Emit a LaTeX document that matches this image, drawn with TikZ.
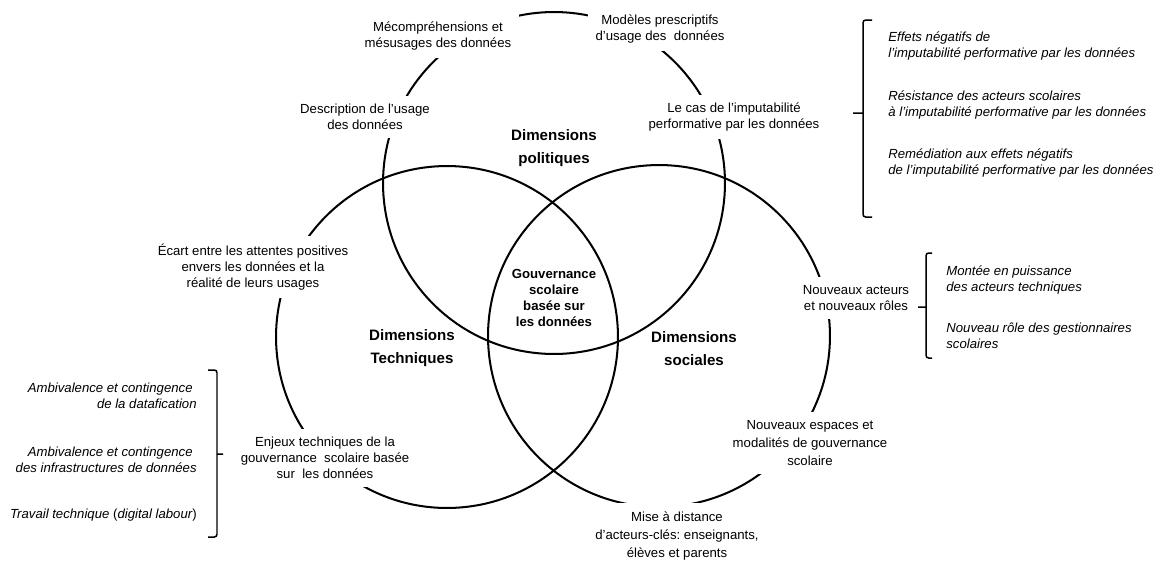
\documentclass[tikz,border=0pt]{standalone}
\usepackage{fontspec}
\setmainfont{Liberation Sans}
\begin{document}
\frenchspacing
\begin{tikzpicture}[x=0.02cm, y=-0.02cm,
    ring/.style={draw, circle, line width=1.15pt, minimum size=6.84cm, inner sep=0pt},
    lbl/.style={fill=white, align=center, inner sep=4.5pt, font=\fontsize{7.5}{9.2}\selectfont},
    dim/.style={align=center, font=\fontsize{8.6}{13.1}\selectfont\bfseries},
    item/.style={align=left, anchor=west, inner sep=0pt, font=\fontsize{7.5}{9.4}\selectfont\itshape},
    brace/.style={line width=0.85pt, rounded corners=1.5pt}]
  \useasboundingbox (0,0) rectangle (1161,562);
  % the three circles
  \node[ring] (pol) at (554,183) {};
  \node[ring] (tech) at (447,337) {};
  \node[ring] (soc) at (659,336) {};
  % dimensions politiques
  \node[lbl] (mecomp) at (438,36) {Mécompréhensions et\\mésusages des données};
  \node[lbl] (modeles) at (660,29) {Modèles prescriptifs\\d’usage des~ données};
  \node[lbl] (descr) at (365,117) {Description de l’usage\\des données};
  \node[lbl] (lecas) at (734,117) {Le cas de l’imputabilité\\performative par les données};
  \node[dim] (dpol) at (554,148) {Dimensions\\politiques};
  % dimensions techniques
  \node[lbl] (ecart) at (253,267) {Écart entre les attentes positives\\envers les données et la\\réalité de leurs usages};
  \node[lbl] (enjeux) at (325,458) {Enjeux techniques de la\\gouvernance~ scolaire basée\\sur~ les données};
  \node[dim] (dtech) at (412,348) {Dimensions\\Techniques};
  % dimensions sociales
  \node[lbl] (acteurs) at (856,298) {Nouveaux acteurs\\et nouveaux rôles};
  \node[lbl, font=\fontsize{7.5}{10.3}\selectfont] (espaces) at (810,443) {Nouveaux espaces et\\modalités de gouvernance\\scolaire};
  \node[lbl, font=\fontsize{7.5}{10.5}\selectfont] (distance) at (677,536) {Mise à distance\\d’acteurs-clés: enseignants,\\élèves et parents};
  \node[dim] (dsoc) at (694,349) {Dimensions\\sociales};
  % centre
  \node[align=center, font=\fontsize{7.5}{9.2}\selectfont\bfseries] (gouv) at (554,298) {Gouvernance\\scolaire\\basée sur\\les données};
  % right, top
  \node[item] (effets) at (888,46) {Effets négatifs de\\l’imputabilité performative par les données};
  \node[item] (resist) at (888,105) {Résistance des acteurs scolaires\\à l’imputabilité performative par les données};
  \node[item] (remed) at (888,163) {Remédiation aux effets négatifs\\de l’imputabilité performative par les données};
  \draw[brace] (872,20) -- (863,20) -- (863,217) -- (872,217) (863,113) -- (853,113);
  % right, middle
  \node[item] (montee) at (946,280) {Montée en puissance\\des acteurs techniques};
  \node[item] (role) at (946,336) {Nouveau rôle des gestionnaires\\scolaires};
  \draw[brace] (932,253) -- (926,253) -- (926,358) -- (932,358) (926,307) -- (918,307);
  % left
  \node[item, anchor=east, align=right] (ambdata) at (197,396) {Ambivalence et contingence\hspace*{0.08cm}\\de la datafication};
  \node[item, anchor=east, align=right] (ambinfra) at (197,460) {Ambivalence et contingence\hspace*{0.08cm}\\des infrastructures de données};
  \node[item, anchor=east, align=right] (travail) at (197,515) {Travail technique {\upshape(}digital labour{\upshape)}};
  \draw[brace] (208,370) -- (217,370) -- (217,537) -- (208,537) (217,454) -- (223,454);
\end{tikzpicture}
\end{document}
